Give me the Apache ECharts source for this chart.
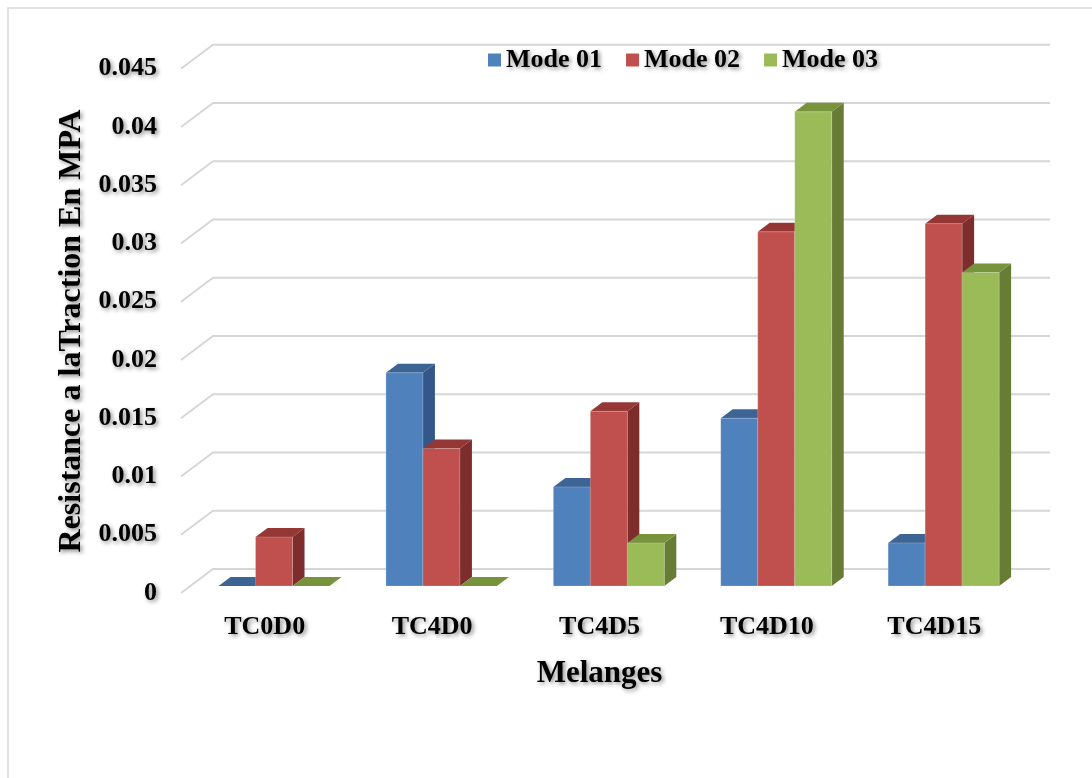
<!DOCTYPE html>
<html>
<head>
<meta charset="utf-8">
<style>
  html, body { margin: 0; padding: 0; background: #ffffff; }
  #chart { width: 1092px; height: 778px; }
</style>
<script src="https://cdn.jsdelivr.net/npm/echarts@6/dist/echarts.min.js"></script>
</head>
<body>
<div id="chart"></div>
<script>
// Tensile strength per mix, three test modes
const categories = ['TC0D0', 'TC4D0', 'TC4D5', 'TC4D10', 'TC4D15'];
const seriesNames = ['Mode 01', 'Mode 02', 'Mode 03'];
const mode01 = [0, 0.0183, 0.0085, 0.0144, 0.0037];
const mode02 = [0.0042, 0.0118, 0.0150, 0.0304, 0.0311];
const mode03 = [0, 0, 0.0037, 0.0407, 0.0269];
const yTicks = [0, 0.005, 0.01, 0.015, 0.02, 0.025, 0.03, 0.035, 0.04, 0.045];

// face colours: front, top, side
const palette = [
  { front: '#4F81BD', top: '#3C6494', side: '#345789' },
  { front: '#C0504D', top: '#953735', side: '#7D2E2C' },
  { front: '#9BBB59', top: '#77933C', side: '#677D36' }
];

const FONT = '"Liberation Serif", "Times New Roman", serif';
const shadow = {
  textShadowColor: 'rgba(0,0,0,0.45)',
  textShadowBlur: 4,
  textShadowOffsetX: 2,
  textShadowOffsetY: 2
};

// oblique depth of the floor / back wall
const DEPTH_X = 32, DEPTH_Y = 24;
// bars sit part-way into the depth, and are shallower than the floor
const BAR_FRONT = 7 / 24, BAR_DEPTH = 9 / 24;
const BAR_FRAC = 0.221;

function gridRender(params, api) {
  const cs = params.coordSys;
  const y = api.coord([0, api.value(1)])[1];
  return {
    type: 'polyline',
    shape: {
      points: [
        [cs.x, y],
        [cs.x + DEPTH_X, y - DEPTH_Y],
        [cs.x + cs.width + DEPTH_X, y - DEPTH_Y]
      ]
    },
    style: { stroke: '#d6d6d6', lineWidth: 1.8, fill: null }
  };
}

function barRenderer(si) {
  return function (params, api) {
    const cat = api.value(0);
    const val = api.value(1);
    const base = api.coord([cat, 0]);
    const top = api.coord([cat, val]);
    const band = api.size([1, 0])[0];
    const w = band * BAR_FRAC;
    const sx = DEPTH_X * BAR_FRONT, sy = DEPTH_Y * BAR_FRONT;
    const bx = DEPTH_X * BAR_DEPTH, by = DEPTH_Y * BAR_DEPTH;
    const x0 = base[0] - 1.5 * w + si * w + sx;
    const y0 = base[1] - sy;
    const y1 = top[1] - sy;
    const c = palette[si];
    const children = [];
    if (y0 - y1 > 0.5) {
      children.push({
        type: 'polygon',
        shape: { points: [[x0 + w, y0], [x0 + w + bx, y0 - by], [x0 + w + bx, y1 - by], [x0 + w, y1]] },
        style: { fill: c.side }
      });
    }
    children.push({
      type: 'polygon',
      shape: { points: [[x0, y1], [x0 + bx, y1 - by], [x0 + w + bx, y1 - by], [x0 + w, y1]] },
      style: { fill: c.top }
    });
    if (y0 - y1 > 0.5) {
      children.push({
        type: 'rect',
        shape: { x: x0, y: y1, width: w, height: y0 - y1 },
        style: { fill: c.front, stroke: 'rgba(255,255,255,0.25)', lineWidth: 0.8 }
      });
    }
    return { type: 'group', children: children };
  };
}

const values = [mode01, mode02, mode03];
const barSeries = values.map(function (arr, si) {
  return {
    name: seriesNames[si],
    type: 'custom',
    renderItem: barRenderer(si),
    clip: false,
    z: 3 + si,
    itemStyle: { color: palette[si].front },
    encode: { x: 0, y: 1 },
    data: arr.map(function (v, i) { return [i, v]; })
  };
});

const chart = echarts.init(document.getElementById('chart'), null, { renderer: 'canvas' });
chart.setOption({
  backgroundColor: '#ffffff',
  animation: false,
  graphic: [{
    type: 'rect',
    shape: { x: 8, y: 8, width: 1300, height: 1000 },
    style: { fill: null, stroke: '#d9d9d9', lineWidth: 1.5 },
    z: 0
  }],
  legend: {
    left: 488,
    top: 47,
    padding: 0,
    itemWidth: 13,
    itemHeight: 13,
    itemGap: 24,
    icon: 'rect',
    data: seriesNames,
    textStyle: Object.assign({
      fontFamily: FONT, fontWeight: 'bold', fontSize: 26, color: '#000', padding: [0, 0, 0, 0]
    }, shadow)
  },
  grid: { left: 181, right: 74, top: 68.75, bottom: 185, containLabel: false },
  xAxis: {
    type: 'category',
    data: categories,
    axisLine: { show: false },
    axisTick: { show: false },
    splitLine: { show: false },
    axisLabel: Object.assign({
      fontFamily: FONT, fontWeight: 'bold', fontSize: 26, color: '#000', margin: 21
    }, shadow),
    name: 'Melanges',
    nameLocation: 'middle',
    nameGap: 65,
    nameTextStyle: Object.assign({
      fontFamily: FONT, fontWeight: 'bold', fontSize: 31, color: '#000'
    }, shadow)
  },
  yAxis: {
    type: 'value',
    min: 0,
    max: 0.045,
    interval: 0.005,
    axisLine: { show: false },
    axisTick: { show: false },
    splitLine: { show: false },
    axisLabel: Object.assign({
      fontFamily: FONT, fontWeight: 'bold', fontSize: 26, color: '#000', margin: 24,
      formatter: function (v) { return String(parseFloat(v.toFixed(3))); }
    }, shadow),
    name: 'Resistance a laTraction En MPA',
    nameLocation: 'middle',
    nameGap: 84,
    nameTextStyle: Object.assign({
      fontFamily: FONT, fontWeight: 'bold', fontSize: 32, color: '#000'
    }, shadow)
  },
  series: [{
    type: 'custom',
    name: 'grid',
    renderItem: gridRender,
    clip: false,
    silent: true,
    z: 1,
    encode: { x: 0, y: 1 },
    data: yTicks.map(function (v) { return [0, v]; })
  }].concat(barSeries)
});
</script>
</body>
</html>
